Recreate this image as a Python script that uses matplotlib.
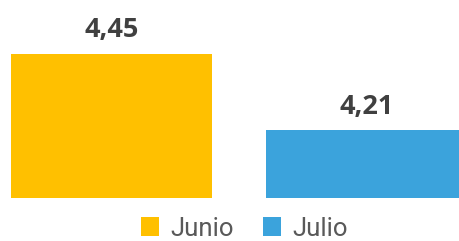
import matplotlib
matplotlib.use("Agg")
import matplotlib.pyplot as plt
from matplotlib.patches import Patch

categories = ["Junio", "Julio"]
values = [4.45, 4.21]
labels = ["4,45", "4,21"]
colors = ["#FFC000", "#3BA3DC"]

plt.rcParams['font.family'] = ['Open Sans', 'DejaVu Sans']

fig = plt.figure(figsize=(4.6, 2.41), dpi=100)
ax = fig.add_axes([0.0, 0.1797, 1.0, 0.664])
x = list(range(len(categories)))
base = 4.0
ax.bar(x, [v - base for v in values], bottom=base, width=0.788, color=colors)
for xi, v, lab in zip(x, values, labels):
    ax.annotate(lab, (xi, v), xytext=(0, 12.2), textcoords="offset points",
                ha="center", va="baseline", fontsize=19.5, fontweight="bold",
                color="#404040", annotation_clip=False)
ax.set_ylim(4.0, 4.5)
ax.set_xlim(-0.437, 1.367)
ax.axis("off")

handles = [Patch(facecolor=c, edgecolor="none") for c in colors]
fig.legend(handles, categories, loc="center", bbox_to_anchor=(244.5/460, 1 - 228.5/241),
           ncol=2, frameon=False, prop={"family": ["Roboto", "DejaVu Sans"], "size": 18.5},
           handlelength=0.72, handleheight=0.72,
           handletextpad=0.45, columnspacing=1.1, borderpad=0, labelcolor="#595959")
fig.savefig("out.png", dpi=100)
